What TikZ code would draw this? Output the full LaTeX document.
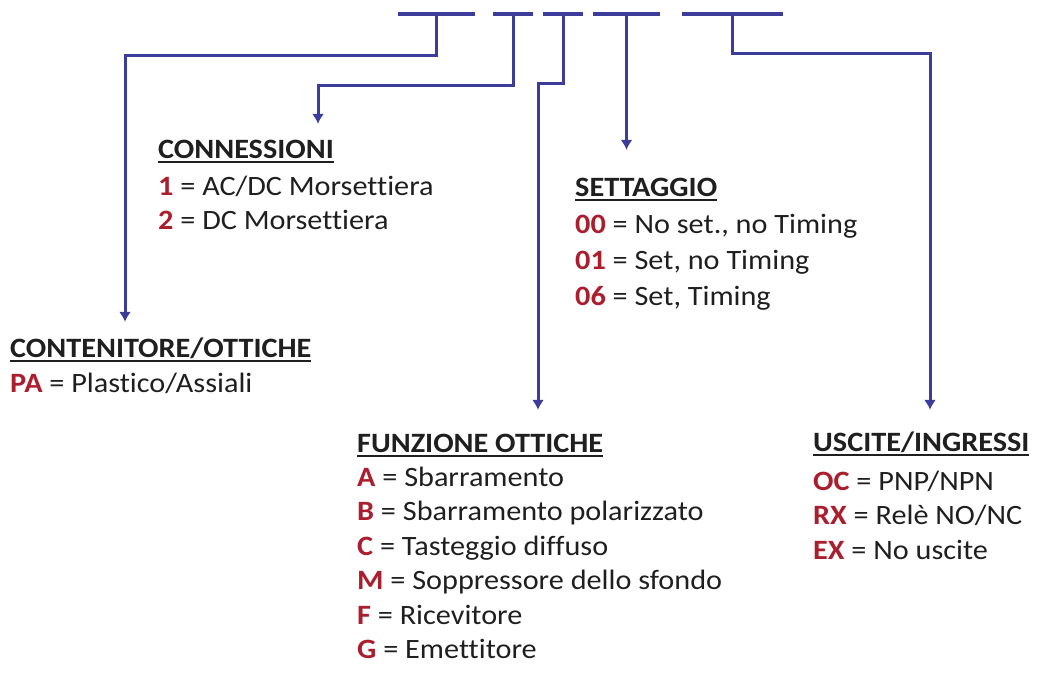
\documentclass[tikz,border=0pt]{standalone}
\usepackage{fontspec}
\setmainfont[FakeStretch=1.08, Ligatures=NoCommon]{Carlito}
\usetikzlibrary{arrows.meta,positioning}
\definecolor{lineblue}{RGB}{60,60,155}
\definecolor{codered}{RGB}{170,30,45}
\newcommand\code[1]{\textcolor{codered}{\bfseries #1}}
\newcommand\hd[1]{\setbox0\hbox{\bfseries #1}\rlap{\rule[-5pt]{\wd0}{2.2pt}}\box0}
\tikzset{
  basic/.style = {font=\fontsize{28}{32}\selectfont, text=black!88, inner sep=0pt,
                  text height=20pt, text depth=7pt, anchor=west},
  head/.style  = {basic},
  item/.style  = {basic},
  bar/.style   = {fill=lineblue, inner sep=0pt, minimum height=3.5pt},
  conn/.style  = {draw=lineblue, line width=3pt, ->}
}

\begin{document}
\begin{tikzpicture}[x=1pt, y=-1pt, >={Latex[length=10pt,width=12pt]},
  node distance=34.5pt, on grid]
\useasboundingbox (0,0) rectangle (1037,673);

% barre sotto il codice
\node[bar, minimum width=77pt]  (b1) at (436.5,14) {};
\node[bar, minimum width=40pt]  (b2) at (513,14) {};
\node[bar, minimum width=40pt]  (b3) at (563,14) {};
\node[bar, minimum width=67pt]  (b4) at (626.5,14) {};
\node[bar, minimum width=101pt] (b5) at (732.5,14) {};

% titoli
\node[head] (c1) at (10,350.5)  {\hd{CONTENITORE/OTTICHE}};
\node[head] (c2) at (158,151.5) {\hd{CONNESSIONI}};
\node[head] (c3) at (357,445.5) {\hd{FUNZIONE OTTICHE}};
\node[head] (c4) at (575,189.5) {\hd{SETTAGGIO}};
\node[head] (c5) at (813,444.5) {\hd{USCITE/INGRESSI}};

% voci
\begin{scope}[every node/.style={item}]
\node [below=35pt of c1.west, anchor=west] (c11) {\code{PA} = Plastico/Assiali};

\node [below=37pt of c2.west, anchor=west] (c21) {\code{1} = AC/DC Morsettiera};
\node [below=of c21.west, anchor=west] (c22) {\code{2} = DC Morsettiera};

\node [below=34pt of c3.west, anchor=west] (c31) {\code{A} = Sbarramento};
\node [below=of c31.west, anchor=west] (c32) {\code{B} = Sbarramento polarizzato};
\node [below=of c32.west, anchor=west] (c33) {\code{C} = Tasteggio diffuso};
\node [below=of c33.west, anchor=west] (c34) {\code{M} = Soppressore dello sfondo};
\node [below=of c34.west, anchor=west] (c35) {\code{F} = Ricevitore};
\node [below=of c35.west, anchor=west] (c36) {\code{G} = Emettitore};

\node [below=37pt of c4.west, anchor=west] (c41) {\code{00} = No set., no Timing};
\node [below=36pt of c41.west, anchor=west] (c42) {\code{01} = Set, no Timing};
\node [below=36pt of c42.west, anchor=west] (c43) {\code{06} = Set, Timing};

\node [below=39pt of c5.west, anchor=west] (c51) {\code{OC} = PNP/NPN};
\node [below=of c51.west, anchor=west] (c52) {\code{RX} = Relè NO/NC};
\node [below=of c52.west, anchor=west] (c53) {\code{EX} = No uscite};
\end{scope}

% gomiti
\coordinate (e1) at (125,55);
\coordinate (e2) at (318,85);
\coordinate (e3) at (538,83);
\coordinate (e5) at (930,53);

\draw[conn, shorten >=15pt] (b1.center) |- (e1) -- (e1 |- c1.north);
\draw[conn, shorten >=14pt] (b2.center) |- (e2) -- (e2 |- c2.north);
\draw[conn, shorten >=22pt] (b3.center) |- (e3) -- (e3 |- c3.north);
\draw[conn, shorten >=26pt] (b4.center) -- (b4 |- c4.north);
\draw[conn, shorten >=21pt] (b5.center) |- (e5) -- (e5 |- c5.north);
\end{tikzpicture}
\end{document}
